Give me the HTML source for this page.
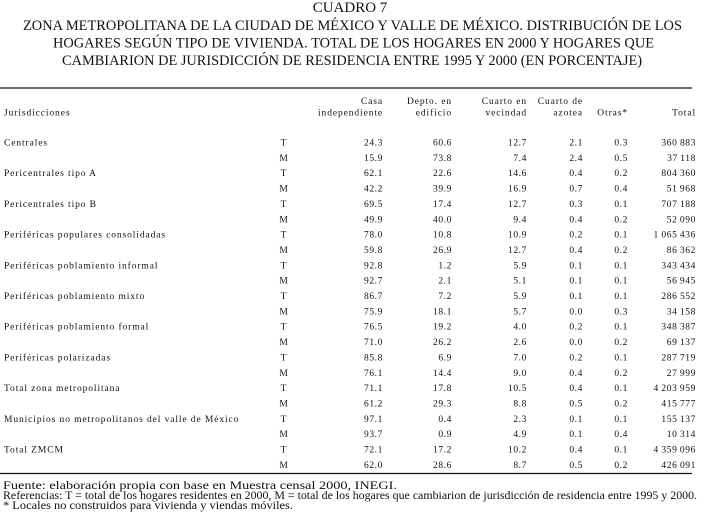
<!DOCTYPE html>
<html><head><meta charset="utf-8"><style>
body{margin:0;background:#fff}
svg{display:block}
text{font-family:"Liberation Serif",serif;fill:#111}
.t{font-size:15px}
.s{font-size:9.5px;letter-spacing:0.9px}
.n{font-size:9.5px;letter-spacing:0.6px}
.f{font-size:11.5px}
</style></head><body>
<svg width="709" height="521" viewBox="0 0 709 521">
<g class="t" text-anchor="middle">
<text x="350" y="12">CUADRO 7</text>
<text x="352.5" y="30" textLength="659" lengthAdjust="spacingAndGlyphs">ZONA METROPOLITANA DE LA CIUDAD DE MÉXICO Y VALLE DE MÉXICO. DISTRIBUCIÓN DE LOS</text>
<text x="353.5" y="47.5" textLength="601" lengthAdjust="spacingAndGlyphs">HOGARES SEGÚN TIPO DE VIVIENDA. TOTAL DE LOS HOGARES EN 2000 Y HOGARES QUE</text>
<text x="352" y="65" textLength="580" lengthAdjust="spacingAndGlyphs">CAMBIARION DE JURISDICCIÓN DE RESIDENCIA ENTRE 1995 Y 2000 (EN PORCENTAJE)</text>
</g>
<line x1="0" y1="88" x2="692" y2="88" stroke="#111" stroke-width="1.3"/>
<line x1="0" y1="473.5" x2="692" y2="473.5" stroke="#111" stroke-width="1.3"/>
<g class="s" text-anchor="end">
<text x="383" y="104">Casa</text><text x="383" y="115.5">independiente</text>
<text x="452" y="104">Depto. en</text><text x="452" y="115.5">edificio</text>
<text x="527" y="104">Cuarto en</text><text x="527" y="115.5">vecindad</text>
<text x="583" y="104">Cuarto de</text><text x="583" y="115.5">azotea</text>
<text x="628" y="115.5">Otras*</text>
<text x="696" y="115.5">Total</text>
</g>
<text class="s" x="4" y="115.5">Jurisdicciones</text>
<g id="rows"></g>
<g class="f">
<text x="3" y="489" textLength="394" lengthAdjust="spacingAndGlyphs">Fuente: elaboración propia con base en Muestra censal 2000, INEGI.</text>
<text x="3" y="499" textLength="694" lengthAdjust="spacingAndGlyphs">Referencias: T = total de los hogares residentes en 2000, M = total de los hogares que cambiarion de jurisdicción de residencia entre 1995 y 2000.</text>
<text x="3" y="509" textLength="290" lengthAdjust="spacingAndGlyphs">* Locales no construidos para vivienda y viendas móviles.</text>
</g>
</svg>
<script>
const d=[
["Centrales",["24.3","60.6","12.7","2.1","0.3","360 883"],["15.9","73.8","7.4","2.4","0.5","37 118"]],
["Pericentrales tipo A",["62.1","22.6","14.6","0.4","0.2","804 360"],["42.2","39.9","16.9","0.7","0.4","51 968"]],
["Pericentrales tipo B",["69.5","17.4","12.7","0.3","0.1","707 188"],["49.9","40.0","9.4","0.4","0.2","52 090"]],
["Periféricas populares consolidadas",["78.0","10.8","10.9","0.2","0.1","1 065 436"],["59.8","26.9","12.7","0.4","0.2","86 362"]],
["Periféricas poblamiento informal",["92.8","1.2","5.9","0.1","0.1","343 434"],["92.7","2.1","5.1","0.1","0.1","56 945"]],
["Periféricas poblamiento mixto",["86.7","7.2","5.9","0.1","0.1","286 552"],["75.9","18.1","5.7","0.0","0.3","34 158"]],
["Periféricas poblamiento formal",["76.5","19.2","4.0","0.2","0.1","348 387"],["71.0","26.2","2.6","0.0","0.2","69 137"]],
["Periféricas polarizadas",["85.8","6.9","7.0","0.2","0.1","287 719"],["76.1","14.4","9.0","0.4","0.2","27 999"]],
["Total zona metropolitana",["71.1","17.8","10.5","0.4","0.1","4 203 959"],["61.2","29.3","8.8","0.5","0.2","415 777"]],
["Municipios no metropolitanos del valle de México",["97.1","0.4","2.3","0.1","0.1","155 137"],["93.7","0.9","4.9","0.1","0.4","10 314"]],
["Total ZMCM",["72.1","17.2","10.2","0.4","0.1","4 359 096"],["62.0","28.6","8.7","0.5","0.2","426 091"]]
];
const xs=[383,452,527,583,628,696];
const g=document.getElementById('rows');let h='';
d.forEach((r,i)=>{
 const y=145.5+i*30.7;
 h+=`<text class="s" x="4" y="${y}">${r[0]}</text>`;
 [[r[1],'T',y],[r[2],'M',y+15.35]].forEach(([v,l,yy])=>{
  h+=`<text class="s" x="284" y="${yy}" text-anchor="middle">${l}</text>`;
  v.forEach((t,j)=>h+=`<text class="n" x="${xs[j]}" y="${yy}" text-anchor="end">${t.replace(/ /g,'\u2009')}</text>`);
 });
});
g.innerHTML=h;
</script>
</body></html>
